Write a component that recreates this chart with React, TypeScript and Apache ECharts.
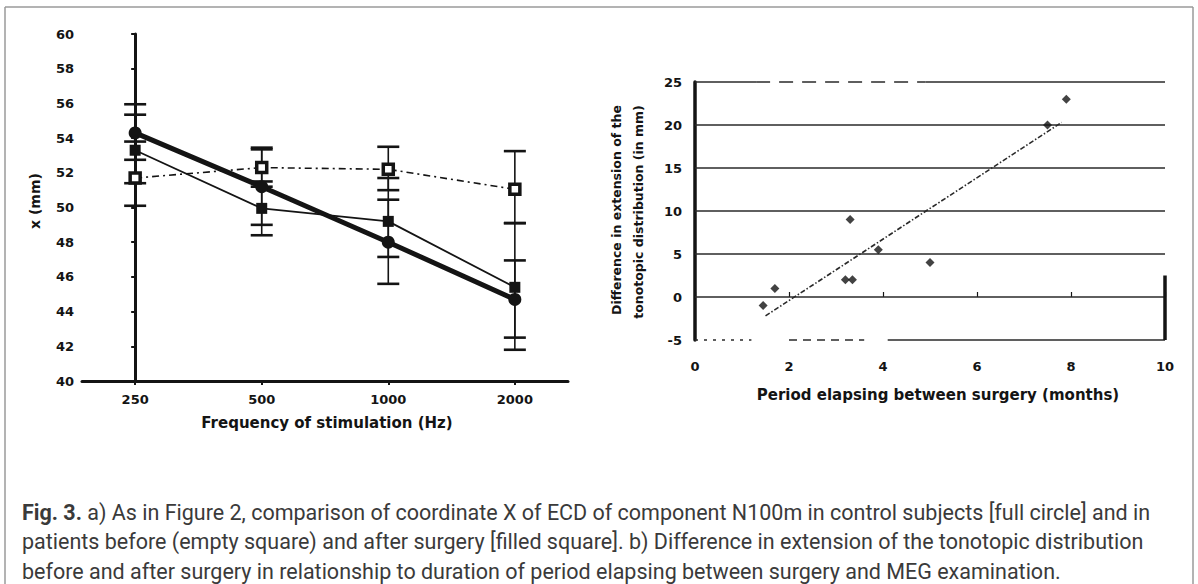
import React, { useEffect, useRef } from 'react';
import * as echarts from 'echarts';

// ---- Left chart (a) data ----
const freqLabels = ['250', '500', '1000', '2000'];
const yTicksLeft = [40, 42, 44, 46, 48, 50, 52, 54, 56, 58, 60];
const controlMean = [54.3, 51.2, 48.0, 44.7];
const controlLow = [52.75, 49.0, 45.6, 42.5];
const controlHigh = [55.95, 53.45, 50.45, 46.95];
const afterMean = [53.3, 49.95, 49.2, 45.4];
const afterLow = [51.4, 48.4, 47.15, 41.8];
const afterHigh = [55.35, 51.5, 51.7, 49.1];
const beforeMean = [51.7, 52.3, 52.2, 51.05];
const beforeLow = [50.1, 51.2, 51.0, 49.1];
const beforeHigh = [53.8, 53.35, 53.5, 53.25];

// ---- Right chart (b) data ----
const months = [1.45, 1.7, 3.2, 3.35, 3.3, 3.9, 5.0, 7.5, 7.9];
const diffs = [-1, 1, 2, 2, 9, 5.5, 4, 20, 23];
const trendMonths = [1.5, 7.8];
const trendDiffs = [-2.2, 20.3];
const gridValues = [0, 5, 10, 15, 20];

const captionLines = [
  '{b|Fig. 3.} a) As in Figure 2, comparison of coordinate X of ECD of component N100m in control subjects [full circle] and in',
  'patients before (empty square) and after surgery [filled square]. b) Difference in extension of the tonotopic distribution',
  'before and after surgery in relationship to duration of period elapsing between surgery and MEG examination.',
];

const INK = '#141414';
const LABEL_FONT = '"DejaVu Sans", "Liberation Sans", sans-serif';

function errSeries(lows: number[], highs: number[]) {
  return {
    type: 'custom',
    xAxisIndex: 0,
    yAxisIndex: 0,
    z: 3,
    encode: { x: 0, y: [1, 2] },
    data: lows.map((lo, i) => [i, lo, highs[i]]),
    renderItem: (params: any, api: any) => {
      const x = api.value(0);
      const lo = api.coord([x, api.value(1)]);
      const hi = api.coord([x, api.value(2)]);
      const w = 11;
      return {
        type: 'group',
        children: [
          { type: 'line', shape: { x1: lo[0], y1: lo[1], x2: hi[0], y2: hi[1] }, style: { stroke: INK, lineWidth: 1.6 } },
          { type: 'line', shape: { x1: lo[0] - w, y1: lo[1], x2: lo[0] + w, y2: lo[1] }, style: { stroke: INK, lineWidth: 2.6 } },
          { type: 'line', shape: { x1: hi[0] - w, y1: hi[1], x2: hi[0] + w, y2: hi[1] }, style: { stroke: INK, lineWidth: 2.6 } },
        ],
      };
    },
  };
}

function seg(x1: number, x2: number, y1: number, y2: number, style: any) {
  return [{ coord: [x1, y1], lineStyle: style }, { coord: [x2, y2] }];
}

export default function App() {
  const ref = useRef<HTMLDivElement>(null);
  useEffect(() => {
    document.body.style.margin = '0';
    const chart = echarts.init(ref.current!, null, { renderer: 'svg' });
    const solid = { color: '#2a2a2a', width: 1.6, type: 'solid' };
    const tickLabel = { color: INK, fontSize: 13, fontWeight: 'bold', fontFamily: LABEL_FONT };
    const option: any = {
      animation: false,
      backgroundColor: '#ffffff',
      grid: [
        { left: 82, top: 34, width: 486, height: 347 },
        { left: 695, top: 82, width: 470, height: 258 },
      ],
      xAxis: [
        {
          type: 'value', gridIndex: 0, min: -0.42, max: 3.42,
          axisLine: { show: true, lineStyle: { color: INK, width: 3 } },
          axisTick: { show: true, customValues: [0, 1, 2, 3], length: 4, lineStyle: { color: INK, width: 2 } },
          axisLabel: {
            customValues: [0, 1, 2, 3], margin: 12,
            formatter: (v: number) => freqLabels[Math.round(v)],
            ...tickLabel,
          },
          splitLine: { show: false },
        },
        {
          type: 'value', gridIndex: 1, min: 0, max: 10, interval: 2,
          axisLine: { show: false },
          axisTick: { show: true, inside: true, length: 5, lineStyle: { color: INK, width: 1.2 } },
          axisLabel: { margin: 20, ...tickLabel },
          splitLine: { show: false },
        },
      ],
      yAxis: [
        {
          type: 'value', gridIndex: 0, min: yTicksLeft[0], max: yTicksLeft[yTicksLeft.length - 1], interval: 2,
          axisLine: { show: true, lineStyle: { color: INK, width: 3 } },
          axisTick: { show: true, length: 4, lineStyle: { color: INK, width: 2 } },
          axisLabel: { margin: 8, ...tickLabel },
          splitLine: { show: false },
        },
        {
          type: 'value', gridIndex: 1, min: -5, max: 25, interval: 5,
          axisLine: { show: true, lineStyle: { color: INK, width: 3.5 } },
          axisTick: { show: false },
          axisLabel: { margin: 13, ...tickLabel },
          splitLine: { show: false },
        },
      ],
      series: [
        errSeries(beforeLow, beforeHigh),
        errSeries(afterLow, afterHigh),
        errSeries(controlLow, controlHigh),
        {
          name: 'before surgery', type: 'line', xAxisIndex: 0, yAxisIndex: 0, z: 4,
          data: beforeMean.map((v, i) => [i, v]),
          lineStyle: { color: INK, width: 1.6, type: [7, 4, 2, 4] },
          symbol: 'rect', symbolSize: 10,
          itemStyle: { color: '#ffffff', borderColor: INK, borderWidth: 3.5 },
        },
        {
          name: 'after surgery', type: 'line', xAxisIndex: 0, yAxisIndex: 0, z: 5,
          data: afterMean.map((v, i) => [i, v]),
          lineStyle: { color: INK, width: 1.8 },
          symbol: 'rect', symbolSize: 11,
          itemStyle: { color: INK },
        },
        {
          name: 'control subjects', type: 'line', xAxisIndex: 0, yAxisIndex: 0, z: 6,
          data: controlMean.map((v, i) => [i, v]),
          lineStyle: { color: INK, width: 5 },
          symbol: 'circle', symbolSize: 13,
          itemStyle: { color: INK },
        },
        {
          name: 'trend', type: 'line', xAxisIndex: 1, yAxisIndex: 1, z: 4,
          data: trendMonths.map((m, i) => [m, trendDiffs[i]]),
          lineStyle: { color: '#2a2a2a', width: 1.6, type: [5, 2, 1.5, 2] },
          symbol: 'none',
        },
        {
          name: 'patients', type: 'scatter', xAxisIndex: 1, yAxisIndex: 1, z: 5,
          data: months.map((m, i) => [m, diffs[i]]),
          symbol: 'diamond', symbolSize: 9,
          itemStyle: { color: INK },
          markLine: {
            silent: true, symbol: ['none', 'none'], label: { show: false }, z: 1,
            data: [
              ...gridValues.map((g) => seg(0, 10, g, g, solid)),
              seg(0, 1.3, 25, 25, solid),
              seg(1.3, 4.9, 25, 25, { color: '#2a2a2a', width: 1.6, type: [14, 9] }),
              seg(4.9, 10, 25, 25, solid),
              seg(0, 1.2, -5, -5, { color: '#2a2a2a', width: 1.6, type: [3, 6] }),
              seg(2.0, 3.6, -5, -5, { color: '#2a2a2a', width: 1.6, type: [8, 6] }),
              seg(4.1, 10, -5, -5, solid),
              seg(10, 10, -5, 2.5, { color: INK, width: 3.5, type: 'solid' }),
            ],
          },
        },
      ],
      graphic: [
        { type: 'line', shape: { x1: 5, y1: 7, x2: 1193, y2: 7 }, style: { stroke: '#9a9a9a', lineWidth: 1.5 } },
        { type: 'line', shape: { x1: 5, y1: 7, x2: 5, y2: 584 }, style: { stroke: '#9a9a9a', lineWidth: 1.5 } },
        { type: 'line', shape: { x1: 1193, y1: 7, x2: 1193, y2: 584 }, style: { stroke: '#9a9a9a', lineWidth: 1.5 } },
        {
          type: 'text', x: 35, y: 201, rotation: Math.PI / 2,
          style: { text: 'x (mm)', fill: INK, font: `bold 14px ${LABEL_FONT}`, align: 'center', verticalAlign: 'middle' },
        },
        {
          type: 'text', x: 327, y: 423,
          style: { text: 'Frequency of stimulation (Hz)', fill: INK, font: `bold 15px ${LABEL_FONT}`, align: 'center', verticalAlign: 'middle' },
        },
        {
          type: 'text', x: 616, y: 210, rotation: Math.PI / 2,
          style: { text: 'Difference in extension of the', fill: INK, font: `bold 12.5px ${LABEL_FONT}`, align: 'center', verticalAlign: 'middle' },
        },
        {
          type: 'text', x: 638, y: 212, rotation: Math.PI / 2,
          style: { text: 'tonotopic distribution (in mm)', fill: INK, font: `bold 12.5px ${LABEL_FONT}`, align: 'center', verticalAlign: 'middle' },
        },
        {
          type: 'text', x: 938, y: 395,
          style: { text: 'Period elapsing between surgery (months)', fill: INK, font: `bold 15px ${LABEL_FONT}`, align: 'center', verticalAlign: 'middle' },
        },
        ...captionLines.map((t, i) => ({
          type: 'text', x: 22, y: 512 + i * 29.5,
          style: {
            text: t, fill: '#3a3a3a', fontSize: 21.5, fontFamily: 'Roboto, sans-serif',
            verticalAlign: 'middle', align: 'left',
            rich: { b: { fontSize: 21.5, fontFamily: 'Roboto, sans-serif', fontWeight: 'bold', fill: '#3a3a3a' } },
          },
        })),
      ],
    };
    chart.setOption(option);
    return () => chart.dispose();
  }, []);
  return <div ref={ref} style={{ position: 'absolute', left: 0, top: 0, width: 1198, height: 584 }} />;
}
